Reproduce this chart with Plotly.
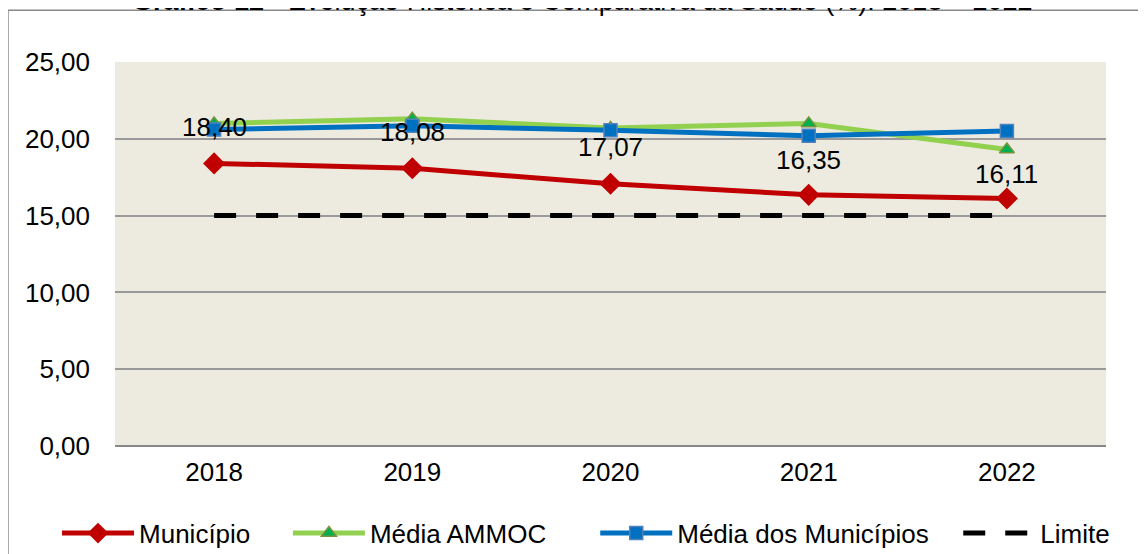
import plotly.graph_objects as go

anos = ["2018", "2019", "2020", "2021", "2022"]
municipio = [18.40, 18.08, 17.07, 16.35, 16.11]
media_ammoc = [21.0, 21.3, 20.7, 21.0, 19.3]
media_municipios = [20.6, 20.85, 20.55, 20.2, 20.5]
limite = [15.0, 15.0, 15.0, 15.0, 15.0]
label_shift = [36, 36, 37, 35, 25]

FONT = "Liberation Sans, Arial, sans-serif"
FS = 26

def fmt(v):
    return f"{v:.2f}".replace(".", ",")

fig = go.Figure()
fig.add_trace(go.Scatter(
    x=anos, y=municipio, name="Município", mode="lines+markers",
    line=dict(color="#C00000", width=5),
    marker=dict(symbol="diamond", size=17, color="#C00000"),
    legend="legend",
))
fig.add_trace(go.Scatter(
    x=anos, y=media_ammoc, name="Média AMMOC", mode="lines+markers",
    line=dict(color="#92D050", width=5),
    marker=dict(symbol="triangle-up", size=13, color="#00B050",
                line=dict(color="#77933C", width=1.5)),
    legend="legend2",
))
fig.add_trace(go.Scatter(
    x=anos, y=media_municipios, name="Média dos Municípios", mode="lines+markers",
    line=dict(color="#0070C0", width=5),
    marker=dict(symbol="square", size=13, color="#0070C0",
                line=dict(color="#4F81BD", width=1.5)),
    legend="legend3",
))
fig.add_trace(go.Scatter(
    x=anos, y=limite, name="Limite", mode="lines",
    line=dict(color="#000000", width=5, dash="22px,20px"),
    legend="legend4",
))

for i, (v, s) in enumerate(zip(municipio, label_shift)):
    fig.add_annotation(x=i, y=v, xref="x", yref="y", text=fmt(v), showarrow=False,
                       yshift=s, font=dict(family=FONT, size=FS, color="#000000"))

fig.add_annotation(
    xref="paper", yref="paper", x=0.471, y=1, yanchor="bottom", yshift=44,
    text="<b>Gráfico 12</b> - Evolução Histórica e Comparativa da Saúde (%): 2018 – 2022",
    showarrow=False, font=dict(family=FONT, size=27, color="#000000"),
)

fig.add_shape(type="rect", xref="paper", yref="paper",
              x0=-0.108, x1=1.2, y0=-0.5, y1=1.135,
              line=dict(color="#888888", width=1.5), fillcolor="rgba(0,0,0,0)",
              layer="below")

def leg(x):
    return dict(orientation="h", x=x, xanchor="left", y=-0.227, yanchor="middle",
                font=dict(family=FONT, size=FS), itemwidth=72,
                bgcolor="rgba(0,0,0,0)")

fig.update_layout(
    width=1138, height=546,
    margin=dict(l=107, r=40, t=54, b=108, autoexpand=False),
    paper_bgcolor="#FFFFFF", plot_bgcolor="#EDEBE0",
    separators=",.",
    font=dict(family=FONT, size=FS, color="#000000"),
    showlegend=True,
    legend=leg(-0.0585),
    legend2=leg(0.1745),
    legend3=leg(0.4846),
    legend4=leg(0.8509),
)
fig.update_xaxes(type="category", showgrid=False, showline=False, zeroline=False,
                 ticks="", tickfont=dict(size=FS), ticklabelstandoff=8,
                 range=[-0.5, 4.5])
fig.update_yaxes(range=[0, 25], dtick=5, tickformat=".2f", showgrid=True,
                 gridcolor="#9A9A9A", gridwidth=1.5, zeroline=True,
                 zerolinecolor="#888888", zerolinewidth=2, showline=False,
                 ticks="", tickfont=dict(size=FS), ticklabelstandoff=24)

fig.write_html("out.html")
